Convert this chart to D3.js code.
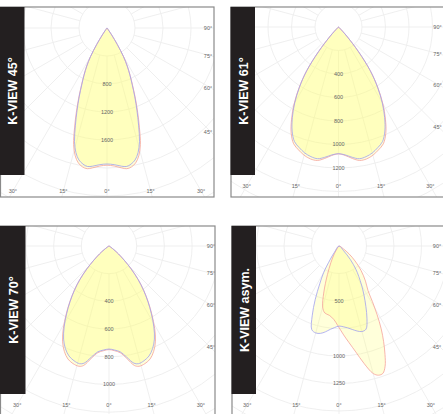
<!DOCTYPE html>
<html>
<head>
<meta charset="utf-8">
<script src="https://cdn.jsdelivr.net/npm/d3@7/dist/d3.min.js"></script>
<style>
  body { margin: 0; background: #fff; }
  svg { display: block; }
  .tick-text { font-family: "Liberation Sans", Arial, sans-serif; font-size: 5.5px; fill: #666; }
  .title-text { font-family: "Liberation Sans", Arial, sans-serif; font-weight: bold; font-size: 12.5px; fill: #fff; }
</style>
</head>
<body>
<script>
// Step 1: data (cd values per angle, 0 = straight down)
//= ================================
var k45Angles = [0, 3, 6, 8, 10, 12, 14, 16, 18, 20, 22, 24, 26, 28, 30, 32, 34, 36, 38];
var k45Blue = [1943, 1955, 1985, 1998, 1975, 1928, 1835, 1685, 1460, 1250, 1060, 885, 745, 615, 470, 280, 120, 30, 0];
var k45Red = [1960, 1975, 2010, 2030, 2015, 1970, 1880, 1730, 1500, 1280, 1080, 900, 755, 620, 475, 280, 120, 30, 0];

var k61Angles = [0, 3, 6, 9, 12, 15, 18, 21, 24, 27, 30, 33, 36, 39, 42, 44, 46, 48];
var k61Blue = [1078, 1090, 1115, 1135, 1128, 1110, 1080, 1045, 970, 865, 745, 609, 460, 270, 115, 50, 10, 0];
var k61Red = [1080, 1095, 1125, 1150, 1148, 1130, 1100, 1065, 990, 880, 755, 615, 462, 272, 115, 50, 10, 0];

var k70Angles = [0, 3, 6, 9, 12, 14, 17, 20, 23, 26, 29, 32, 35, 38, 41, 44, 47, 50, 53, 56, 58];
var k70Blue = [744, 752, 768, 812, 865, 876, 866, 845, 805, 748, 668, 578, 490, 405, 320, 230, 150, 90, 45, 15, 0];
var k70Red = [748, 757, 775, 822, 882, 895, 888, 868, 826, 765, 680, 585, 495, 408, 322, 232, 150, 90, 45, 15, 0];

var asymBlueAngles = [-40, -36, -33, -30, -27, -24, -21, -18, -15, -12, -9, -6, -3, 0, 3, 6, 9, 12, 15, 18, 21, 24, 27, 30, 33, 36, 40, 44, 48];
var asymBlue = [0, 70, 150, 280, 385, 530, 680, 800, 818, 812, 790, 762, 742, 728, 735, 748, 768, 790, 805, 795, 710, 600, 500, 410, 330, 260, 160, 60, 0];
var asymRedAngles = [-40, -35, -31, -26, -22, -20, -18, -15, -12, -8, -4, -1, 3, 6, 9, 12, 15, 17, 19, 21, 23, 25, 27, 29, 31, 33, 37, 42, 47, 52, 57, 62];
var asymRed = [0, 30, 82, 170, 280, 360, 450, 574, 622, 636, 670, 721, 810, 885, 975, 1090, 1200, 1228, 1225, 1170, 1070, 960, 845, 715, 590, 485, 400, 300, 200, 115, 45, 0];

var panelTitles = ["K-VIEW 45°", "K-VIEW 61°", "K-VIEW 70°", "K-VIEW asym."];
var ringSteps = [400, 200, 200, 250];
var ringLabels = [[800, 1200, 1600], [400, 600, 800, 1000, 1200], [400, 600, 800, 1000], [500, 1000, 1250]];
var rightTickAngles = [90, 75, 60, 45];
var rightTickLabels = ["90°", "75°", "60°", "45°"];
var bottomTickAngles = [-30, -15, 0, 15, 30];
var bottomTickLabels = ["30°", "15°", "0°", "15°", "30°"];

// Step 2: build the curve tables (symmetric ones mirrored)
//= ================================
function mirror(angles, values) {
  var pts = [];
  for (var i = angles.length - 1; i > 0; i--) pts.push({ a: -angles[i], v: values[i] });
  for (var j = 0; j < angles.length; j++) pts.push({ a: angles[j], v: values[j] });
  return pts;
}
function pairUp(angles, values) {
  return angles.map(function(a, i) { return { a: a, v: values[i] }; });
}

var curves = [
  { red: mirror(k45Angles, k45Red), blue: mirror(k45Angles, k45Blue) },
  { red: mirror(k61Angles, k61Red), blue: mirror(k61Angles, k61Blue) },
  { red: mirror(k70Angles, k70Red), blue: mirror(k70Angles, k70Blue) },
  { red: pairUp(asymRedAngles, asymRed), blue: pairUp(asymBlueAngles, asymBlue) }
];

// panel layout in pixels
var layout = [
  { x0: 0.5, y0: 7, x1: 214, y1: 197, barW: 24, barB: 175, ox: 107, oy: 28, stepPx: 28, hitX: 104, labX: 208, labY: 191 },
  { x0: 231, y0: 7, x1: 447, y1: 197, barW: 24, barB: 175, ox: 338.5, oy: 27, stepPx: 23.5, hitX: 100, labX: 437.5, labY: 186 },
  { x0: 0.5, y0: 226, x1: 215, y1: 418, barW: 25, barB: 394, ox: 109, oy: 246, stepPx: 27.7, hitX: 101.5, labX: 211, labY: 405 },
  { x0: 232, y0: 226, x1: 447, y1: 418, barW: 24, barB: 394, ox: 339, oy: 246, stepPx: 27.5, hitX: 101.5, labX: 437, labY: 405 }
];

// Step 3: draw
//= ================================
var svg = d3.select("body")
  .append("svg")
  .attr("width", 443)
  .attr("height", 414);

var rad = Math.PI / 180;

layout.forEach(function(p, idx) {
  var r = d3.scaleLinear().domain([0, ringSteps[idx]]).range([0, p.stepPx]);

  svg.append("clipPath")
    .attr("id", "clip" + idx)
    .append("rect")
    .attr("x", p.x0).attr("y", p.y0)
    .attr("width", p.x1 - p.x0).attr("height", p.y1 - p.y0);

  var g = svg.append("g").attr("clip-path", "url(#clip" + idx + ")");
  var polar = g.append("g").attr("transform", "translate(" + p.ox + "," + p.oy + ")");

  // grid rings
  var rings = d3.range(1, 16).map(function(i) { return i * ringSteps[idx]; });
  polar.selectAll("circle.ring")
    .data(rings)
    .enter()
    .append("circle")
    .attr("r", function(d) { return r(d); })
    .attr("fill", "none")
    .attr("stroke", "#ededed")
    .attr("stroke-width", 0.9);

  // radial spokes every 15 deg, starting from the first ring
  polar.selectAll("line.spoke")
    .data(d3.range(0, 360, 15))
    .enter()
    .append("line")
    .attr("x1", function(d) { return r(ringSteps[idx]) * Math.sin(d * rad); })
    .attr("y1", function(d) { return r(ringSteps[idx]) * Math.cos(d * rad); })
    .attr("x2", function(d) { return 600 * Math.sin(d * rad); })
    .attr("y2", function(d) { return 600 * Math.cos(d * rad); })
    .attr("stroke", "#ededed")
    .attr("stroke-width", 0.9);

  // curves
  var line = d3.lineRadial()
    .angle(function(d) { return Math.PI - d.a * rad; })
    .radius(function(d) { return r(d.v); })
    .curve(d3.curveCatmullRomClosed);

  var c = curves[idx];
  [c.red, c.blue].forEach(function(pts) {
    polar.append("path")
      .attr("d", line(pts.slice(0, -1)))
      .attr("fill", "#ffff70")
      .attr("fill-opacity", 0.26)
      .attr("stroke", "none");
  });
  polar.append("path")
    .attr("d", line(c.red.slice(0, -1)))
    .attr("fill", "none")
    .attr("stroke", "#f5a49c")
    .attr("stroke-opacity", 0.9)
    .attr("stroke-width", 0.9);
  polar.append("path")
    .attr("d", line(c.blue.slice(0, -1)))
    .attr("fill", "none")
    .attr("stroke", "#a2a2ef")
    .attr("stroke-opacity", 0.9)
    .attr("stroke-width", 0.9);

  // ring labels
  polar.selectAll("text.ring-label")
    .data(ringLabels[idx])
    .enter()
    .append("text")
    .attr("class", "tick-text")
    .attr("x", 0)
    .attr("y", function(d) { return r(d); })
    .attr("dy", "0.35em")
    .attr("text-anchor", "middle")
    .text(function(d) { return d; });

  // angle labels on the right side
  g.selectAll("text.right-label")
    .data(rightTickAngles)
    .enter()
    .append("text")
    .attr("class", "tick-text")
    .attr("x", p.labX)
    .attr("y", function(d) { return p.oy + p.hitX / Math.tan(d * rad); })
    .attr("dy", "0.35em")
    .attr("text-anchor", "middle")
    .text(function(d, i) { return rightTickLabels[i]; });

  // angle labels along the bottom
  g.selectAll("text.bottom-label")
    .data(bottomTickAngles)
    .enter()
    .append("text")
    .attr("class", "tick-text")
    .attr("x", function(d) { return p.ox + (p.labY - p.oy) * Math.tan(d * rad); })
    .attr("y", p.labY)
    .attr("dy", "0.35em")
    .attr("text-anchor", "middle")
    .text(function(d, i) { return bottomTickLabels[i]; });

  // frame
  svg.append("rect")
    .attr("x", p.x0).attr("y", p.y0)
    .attr("width", p.x1 - p.x0).attr("height", p.y1 - p.y0)
    .attr("fill", "none")
    .attr("stroke", "#8a8a8a")
    .attr("stroke-width", 1.2);

  // black title bar
  svg.append("rect")
    .attr("x", p.x0 - 0.5).attr("y", p.y0)
    .attr("width", p.barW + 0.5).attr("height", p.barB - p.y0)
    .attr("fill", "#231f20");

  svg.append("text")
    .attr("class", "title-text")
    .attr("transform", "translate(" + (p.x0 + p.barW / 2) + "," + ((p.y0 + p.barB) / 2) + ") rotate(-90)")
    .attr("text-anchor", "middle")
    .attr("dy", "0.36em")
    .text(panelTitles[idx]);
});
</script>
</body>
</html>
